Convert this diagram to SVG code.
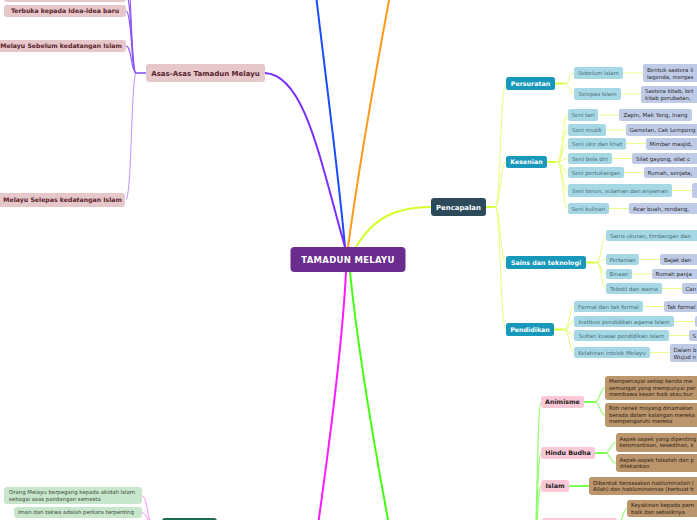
<svg xmlns="http://www.w3.org/2000/svg" width="697" height="520" viewBox="0 0 697 520">
<style>
text{font-family:"DejaVu Sans","Liberation Sans",sans-serif}
.c path{fill:none;stroke-linecap:round}
.main{stroke-width:2}
.yl{stroke:#e8ff8a;stroke-width:1.1}
.ylb{stroke:#d6ff3c;stroke-width:2}
.gr{stroke:#8cff6a;stroke-width:1.1}
.grb{stroke:#7aff50;stroke-width:1.8}
.vi{stroke:#8a55ff;stroke-width:1.1}
.pk{stroke:#ff8cff;stroke-width:1}
.asas rect{fill:#e6c8cb}
.asas text{fill:#5a1e2b;font-weight:bold;font-size:6.2px}
.blue rect{fill:#1898bb}
.blue text{fill:#fff;font-weight:bold;font-size:6.3px}
.lb rect{fill:#a5d8e4}
.lb text{fill:#4c6e77;font-size:5.5px}
.pw rect{fill:#bfcbe6}
.pw text{fill:#2a2a2a;font-size:5.5px}
.pink rect{fill:#fbc8d6}
.pink text{fill:#1c1c1c;font-weight:bold;font-size:6.3px}
.br rect{fill:#bb956b}
.br text{fill:#2b2114;font-size:5.4px}
.lg rect{fill:#c8e6cb}
.lg text{fill:#3c4a3c;font-size:5.4px}
.mid{text-anchor:middle}
</style>
<rect width="697" height="520" fill="#fff"/>
<g id="connectors" class="c">
<path class="main" stroke="#1a4dff" d="M345,247 C338,170 326,80 316,-5"/>
<path class="main" stroke="#ff9a1a" d="M348,247 C360,160 376,70 390,-5"/>
<path class="main" stroke="#7a2fff" d="M345,247 C320,160 305,75 265,73"/>
<path class="main" stroke="#d4ff2a" d="M356,247 C375,215 400,207 431,207"/>
<path class="main" stroke="#ff1aff" d="M346,272 C342,350 330,440 318,525"/>
<path class="main" stroke="#44ff11" d="M350,272 C358,350 375,450 389,525"/>
<path stroke="#7f4fff" stroke-width="1.5" d="M146,73 L136,73"/>
<path class="vi" d="M136,73 C131,73 132,11 126,11"/>
<path class="vi" d="M136,73 C131,73 132,46 126,46"/>
<path class="vi" d="M136,73 C131,73 132,-5 126,-5"/>
<path class="vi" d="M136,73 C131,73 131,-40 126,-40"/>
<path stroke="#bb95ff" stroke-width="1" d="M136,73 C131,73 132,200 126,200"/>
<path class="ylb" d="M486,207 L495,207"/>
<path class="yl" d="M495,207 C501,207 500,83.5 506,83.5"/>
<path class="yl" d="M495,207 C501,207 500,162 506,162"/>
<path class="yl" d="M495,207 C501,207 500,262.5 506,262.5"/>
<path class="yl" d="M495,207 C501,207 500,329.5 506,329.5"/>
<path class="ylb" d="M555,83.5 L565,83.5"/>
<path class="yl" d="M565,83.5 C570,83.5 569,73 574,73"/>
<path class="yl" d="M565,83.5 C570,83.5 569,94 574,94"/>
<path class="yl" d="M623,73 L643,73"/>
<path class="yl" d="M621,94 L641,94"/>
<path class="ylb" d="M547,162 L557,162"/>
<path class="yl" d="M557,162 C563,162 562,115 568,115"/>
<path class="yl" d="M557,162 C563,162 562,130 568,130"/>
<path class="yl" d="M557,162 C563,162 562,143.5 568,143.5"/>
<path class="yl" d="M557,162 C563,162 562,158.5 568,158.5"/>
<path class="yl" d="M557,162 C563,162 562,172.5 568,172.5"/>
<path class="yl" d="M557,162 C563,162 562,190.5 568,190.5"/>
<path class="yl" d="M557,162 C563,162 562,208.5 568,208.5"/>
<path class="yl" d="M598,115 L619,115"/>
<path class="yl" d="M606,130 L626,130"/>
<path class="yl" d="M626,143.5 L646,143.5"/>
<path class="yl" d="M612,158.5 L632,158.5"/>
<path class="yl" d="M624,172.5 L644,172.5"/>
<path class="yl" d="M672,190.5 L692,190.5"/>
<path class="yl" d="M609,208.5 L629,208.5"/>
<path class="ylb" d="M586,262.5 L596,262.5"/>
<path class="yl" d="M596,262.5 C602,262.5 601,235.5 606,235.5"/>
<path class="yl" d="M596,262.5 C602,262.5 601,259.5 606,259.5"/>
<path class="yl" d="M596,262.5 C602,262.5 601,274 606,274"/>
<path class="yl" d="M596,262.5 C602,262.5 601,288.5 606,288.5"/>
<path class="yl" d="M639,259.5 L660,259.5"/>
<path class="yl" d="M632,274 L652,274"/>
<path class="yl" d="M662,288.5 L682,288.5"/>
<path class="ylb" d="M554,329.5 L564,329.5"/>
<path class="yl" d="M564,329.5 C570,329.5 569,306.5 574,306.5"/>
<path class="yl" d="M564,329.5 C570,329.5 569,321.5 574,321.5"/>
<path class="yl" d="M564,329.5 C570,329.5 569,335.5 574,335.5"/>
<path class="yl" d="M564,329.5 C570,329.5 569,352.5 574,352.5"/>
<path class="yl" d="M643,306.5 L664,306.5"/>
<path class="yl" d="M674,321.5 L695,321.5"/>
<path class="yl" d="M669,335.5 L689,335.5"/>
<path class="yl" d="M650,352.5 L670,352.5"/>
<path class="gr" d="M533,560 C537,560 537,402 541,402"/>
<path class="gr" d="M533,560 C537,560 537,453 541,453"/>
<path class="gr" d="M533,560 C537,560 537,486 541,486"/>
<path class="gr" d="M533,560 C537,560 537,528 542,528"/>
<path class="grb" d="M584,402 L595,402"/>
<path class="gr" d="M595,402 C600,402 600,388 605,388"/>
<path class="gr" d="M595,402 C600,402 600,415 605,415"/>
<path class="grb" d="M595,453 L605,453"/>
<path class="gr" d="M605,453 C611,453 610,442.5 616,442.5"/>
<path class="gr" d="M605,453 C611,453 610,463 616,463"/>
<path class="grb" d="M569,486 L589,486"/>
<path class="gr" d="M617,528 C622,528 622,508.5 627,508.5"/>
<path class="pk" d="M142,495.5 C148,495.5 148,528 153,528"/>
<path class="pk" d="M142,512.5 C148,512.5 148,528 153,528"/>
</g>
<g id="n-center"><rect x="290.5" y="247" width="115" height="25" rx="4" fill="#6a2c8e"/><text x="348" y="263" class="mid" fill="#fff" font-weight="bold" font-size="8.5" letter-spacing="0.3">TAMADUN MELAYU</text></g>
<g id="n-asas" class="asas"><rect x="146" y="64" width="119" height="18" rx="3"/><text x="205.5" y="75.5" class="mid" style="font-size:7px">Asas-Asas Tamadun Melayu</text></g>
<g id="n-asas-top" class="asas"><rect x="4" y="-12" width="122" height="14" rx="3"/></g>
<g id="n-terbuka" class="asas"><rect x="4" y="5" width="122" height="12" rx="3"/><text x="65" y="13.2" class="mid">Terbuka kepada Idea-idea baru</text></g>
<g id="n-sebelum" class="asas"><rect x="-10" y="40" width="136" height="12" rx="3"/><text x="122" y="48.3" text-anchor="end">Melayu Sebelum kedatangan Islam</text></g>
<g id="n-selepas" class="asas"><rect x="-10" y="193" width="135" height="14" rx="3"/><text x="122" y="202.3" text-anchor="end">Melayu Selepas kedatangan Islam</text></g>
<g id="n-pencapalan"><rect x="431" y="198" width="55" height="18" rx="3" fill="#2d4a5a"/><text x="458.5" y="209.5" class="mid" fill="#fff" font-weight="bold" font-size="6.9">Pencapalan</text></g>
<g id="n-persuratan" class="blue"><rect x="506" y="77" width="49" height="13" rx="2.5"/><text x="530.5" y="85.8" class="mid">Persuratan</text></g>
<g id="n-kesenian" class="blue"><rect x="506" y="156" width="41" height="12" rx="2.5"/><text x="526.5" y="164.3" class="mid">Kesenian</text></g>
<g id="n-sains" class="blue"><rect x="506" y="256" width="80" height="13" rx="2.5"/><text x="546" y="264.8" class="mid">Sains dan teknologi</text></g>
<g id="n-pendidikan" class="blue"><rect x="506" y="323" width="48" height="13" rx="2.5"/><text x="530" y="331.8" class="mid">Pendidikan</text></g>
<g id="n-sebelum-islam" class="lb"><rect x="574" y="67" width="49" height="12" rx="2"/><text x="598.5" y="75" class="mid">Sebelum Islam</text></g>
<g id="n-selepas-islam" class="lb"><rect x="574" y="88" width="47" height="12" rx="2"/><text x="597.5" y="96" class="mid">Selepas Islam</text></g>
<g id="n-lisan" class="pw"><rect x="643" y="64" width="70" height="18" rx="2"/><text x="647" y="71.5">Bentuk sastera li</text><text x="647" y="78.5">lagenda, mergas</text></g>
<g id="n-kitab" class="pw"><rect x="641" y="86" width="72" height="17" rx="2"/><text x="645" y="93">Sastera kitab, ket</text><text x="645" y="100">kitab perubatan,</text></g>
<g id="n-tari" class="lb"><rect x="568" y="109" width="30" height="12" rx="2"/><text x="583" y="117" class="mid">Seni tari</text></g>
<g id="n-zapin" class="pw"><rect x="619" y="109" width="73" height="12" rx="2"/><text x="655.5" y="117" class="mid">Zapin, Mak Yong, Inang</text></g>
<g id="n-muzik" class="lb"><rect x="568" y="124" width="38" height="12" rx="2"/><text x="587" y="132" class="mid">Seni muzik</text></g>
<g id="n-gamelan" class="pw"><rect x="626" y="124" width="80" height="12" rx="2"/><text x="629.5" y="132">Gamelan, Cak Lempong</text></g>
<g id="n-ukir" class="lb"><rect x="568" y="138" width="58" height="11.5" rx="2"/><text x="597" y="145.8" class="mid">Seni ukir dan khat</text></g>
<g id="n-mimbar" class="pw"><rect x="646" y="138" width="60" height="12" rx="2"/><text x="649.5" y="146">Mimbar masjid,</text></g>
<g id="n-beladiri" class="lb"><rect x="568" y="153" width="44" height="11" rx="2"/><text x="590" y="160.6" class="mid">Seni bela diri</text></g>
<g id="n-silat" class="pw"><rect x="632" y="153" width="70" height="11" rx="2"/><text x="636" y="160.6">Silat gayong, silat c</text></g>
<g id="n-pertukangan" class="lb"><rect x="568" y="167" width="56" height="11" rx="2"/><text x="596" y="174.6" class="mid">Seni pertukangan</text></g>
<g id="n-rumah" class="pw"><rect x="644" y="167" width="60" height="11" rx="2"/><text x="647.5" y="174.6">Rumah, senjata,</text></g>
<g id="n-tenun" class="lb"><rect x="568" y="184" width="104" height="13" rx="2"/><text x="620" y="192.5" class="mid">Seni tenun, sulaman dan anyaman</text></g>
<g id="n-tenun-leaf" class="pw"><rect x="692" y="183" width="20" height="15" rx="2"/></g>
<g id="n-kulinari" class="lb"><rect x="568" y="203" width="41" height="11" rx="2"/><text x="588.5" y="210.6" class="mid">Seni kulinari</text></g>
<g id="n-acar" class="pw"><rect x="629" y="203" width="70" height="11" rx="2"/><text x="633" y="210.6">Acar buah, rendang,</text></g>
<g id="n-ukuran" class="lb"><rect x="606" y="230" width="100" height="11" rx="2"/><text x="610" y="237.6">Sains ukuran, timbangan dan</text></g>
<g id="n-pertanian" class="lb"><rect x="606" y="254" width="33" height="11" rx="2"/><text x="622.5" y="261.6" class="mid">Pertanian</text></g>
<g id="n-bajak" class="pw"><rect x="660" y="254" width="50" height="11" rx="2"/><text x="664" y="261.6">Bajak dan</text></g>
<g id="n-binaan" class="lb"><rect x="606" y="269" width="26" height="10" rx="2"/><text x="619" y="276.1" class="mid">Binaan</text></g>
<g id="n-panjang" class="pw"><rect x="652" y="269" width="55" height="10" rx="2"/><text x="655.5" y="276.1">Rumah panja</text></g>
<g id="n-tekstil" class="lb"><rect x="606" y="283" width="56" height="11" rx="2"/><text x="634" y="290.6" class="mid">Tekstil dan warna</text></g>
<g id="n-canting" class="pw"><rect x="682" y="283" width="30" height="11" rx="2"/><text x="685.5" y="290.6">Can</text></g>
<g id="n-formal" class="lb"><rect x="574" y="301" width="69" height="11" rx="2"/><text x="608.5" y="308.6" class="mid">Formal dan tak formal</text></g>
<g id="n-takformal" class="pw"><rect x="664" y="301" width="50" height="11" rx="2"/><text x="667" y="308.6">Tak formal</text></g>
<g id="n-institusi" class="lb"><rect x="574" y="316" width="100" height="11" rx="2"/><text x="624" y="323.6" class="mid">Institusi pendidikan agama Islam</text></g>
<g id="n-institusi-leaf" class="pw"><rect x="695" y="316" width="10" height="11" rx="2"/></g>
<g id="n-sultan" class="lb"><rect x="574" y="330" width="95" height="11" rx="2"/><text x="621.5" y="337.6" class="mid">Sultan kuasai pendidikan Islam</text></g>
<g id="n-sultan-leaf" class="pw"><rect x="689" y="330" width="20" height="11" rx="2"/><text x="692.5" y="337.6">S</text></g>
<g id="n-kelahiran" class="lb"><rect x="574" y="347" width="76" height="11" rx="2"/><text x="612" y="354.6" class="mid">Kelahiran intelek Melayu</text></g>
<g id="n-dalam" class="pw"><rect x="670" y="344" width="50" height="18" rx="2"/><text x="673.5" y="351.5">Dalam b</text><text x="673.5" y="358.5">Wujud n</text></g>
<g id="n-animisme" class="pink"><rect x="541" y="396" width="43" height="12" rx="2.5"/><text x="562.5" y="404.3" class="mid">Animisme</text></g>
<g id="n-anim1" class="br"><rect x="605" y="376" width="100" height="24" rx="3"/><text x="609" y="383">Mempercayai setiap benda me</text><text x="609" y="389.6">semangat yang mempunyai per</text><text x="609" y="396.2">membawa kesan baik atau bur</text></g>
<g id="n-anim2" class="br"><rect x="605" y="403" width="100" height="24" rx="3"/><text x="609" y="410">Roh nenek moyang dinamakan</text><text x="609" y="416.6">berada dalam kalangan mereka</text><text x="609" y="423.2">mempengaruhi mereka</text></g>
<g id="n-hindu" class="pink"><rect x="541" y="447" width="54" height="12" rx="2.5"/><text x="568" y="455.3" class="mid">Hindu Budha</text></g>
<g id="n-hindu1" class="br"><rect x="616" y="433" width="90" height="19" rx="3"/><text x="619.5" y="440.5">Aspek-aspek yang dipenting</text><text x="619.5" y="447.3">keromantisan, kesedihan, k</text></g>
<g id="n-hindu2" class="br"><rect x="616" y="454" width="90" height="18" rx="3"/><text x="619.5" y="461.5">Aspek-aspek falsafah dan p</text><text x="619.5" y="468.3">ditekankan</text></g>
<g id="n-islam" class="pink"><rect x="541" y="480" width="28" height="12" rx="2.5"/><text x="555" y="488.3" class="mid">Islam</text></g>
<g id="n-islam1" class="br"><rect x="589" y="477" width="120" height="18" rx="3"/><text x="593" y="484.5">Dibentuk berasaskan <tspan font-style="italic">habluminallah</tspan> (</text><text x="593" y="491.3">Allah) dan <tspan font-style="italic">habluminannas</tspan> (berbuat b</text></g>
<g id="n-pink-bottom" class="pink"><rect x="542" y="518" width="75" height="20" rx="2.5"/></g>
<g id="n-keyakinan" class="br"><rect x="627" y="500" width="80" height="17" rx="3"/><text x="631" y="507">Keyakinan kepada pem</text><text x="631" y="513.8">baik dan sebaliknya</text></g>
<g id="n-akidah" class="lg"><rect x="4" y="487" width="138" height="17" rx="3"/><text x="9" y="494">Orang Melayu berpegang kepada akidah Islam</text><text x="9" y="500.7">sebagai asas pandangan semesta</text></g>
<g id="n-iman" class="lg"><rect x="14" y="507" width="128" height="11" rx="3"/><text x="18" y="514.4">Iman dan takwa adalah perkara terpenting</text></g>
<g id="n-darkgreen"><rect x="162" y="518" width="55" height="20" rx="3" fill="#1e6b55"/></g>
</svg>
